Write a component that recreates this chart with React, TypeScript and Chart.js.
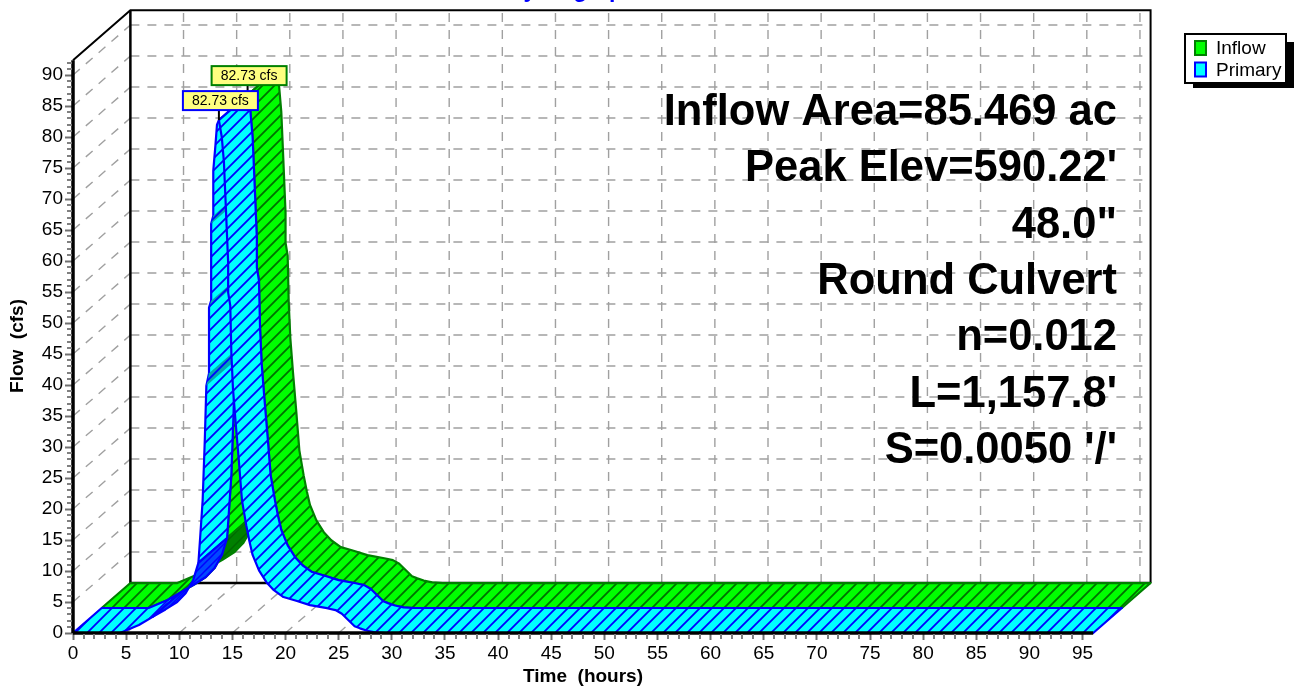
import React, { useEffect, useRef } from "react";
import { Chart, registerables } from "chart.js";

Chart.register(...registerables);

const timeHours = [0, 4.42, 6.2, 7.5, 8.7, 9.8, 10.6, 11.3, 11.8, 11.95, 12.2, 12.4, 12.55, 12.8, 12.8, 13.0, 13.0, 13.2, 13.2, 13.4, 13.55, 13.73,
  14.0, 14.2, 14.35, 14.6, 14.6, 14.8, 14.9, 15.05, 15.3, 15.6, 15.9, 16.3, 16.6, 16.9, 17.5, 18.2, 18.9, 19.8, 21, 22.3, 23.9, 24.7, 25.3, 25.9, 26.5, 27.0, 27.6, 28.4, 29.4, 96];
const inflowCfs = [0, 0, 1.3, 2.6, 3.8, 5, 6.4, 8.5, 11.3, 15, 21.4, 31, 39.9, 41.9, 52.5, 53.6, 66, 67.3, 74.6, 78.6, 82, 82.73,
  80, 76, 70, 59.7, 54.9, 52.8, 45.2, 39.5, 34, 27.9, 21.4, 17.4, 14.8, 12.6, 10.1, 8.2, 6.9, 5.8, 5.2, 4.5, 4, 3.7, 3.1, 2.1, 1.1, 0.75, 0.4, 0.1, 0, 0];
const primaryCfs = [0, 0, 1.3, 2.6, 3.8, 5, 6.4, 8.5, 11.3, 15, 21.4, 31, 39.9, 41.9, 52.5, 53.6, 66, 67.3, 74.6, 78.6, 82, 82.73,
  80, 76, 70, 59.7, 54.9, 52.8, 45.2, 39.5, 34, 27.9, 21.4, 17.4, 14.8, 12.6, 10.1, 8.2, 6.9, 5.8, 5.2, 4.5, 4, 3.7, 3.1, 2.1, 1.1, 0.75, 0.4, 0.1, 0, 0];

const xTicks = [0, 5, 10, 15, 20, 25, 30, 35, 40, 45, 50, 55, 60, 65, 70, 75, 80, 85, 90, 95];
const yTicks = [0, 5, 10, 15, 20, 25, 30, 35, 40, 45, 50, 55, 60, 65, 70, 75, 80, 85, 90];
const annotationLines = ["Inflow Area=85.469 ac", "Peak Elev=590.22'", "48.0\"", "Round Culvert", "n=0.012", "L=1,157.8'", "S=0.0050 '/'"];
const legendItems = ["Inflow", "Primary"];
const chartTitle = "Hydrograph";
const xTitle = "Time  (hours)";
const yTitle = "Flow  (cfs)";

// index ranges of the curve, by how the surface is shaded
const DARK_FROM = 3;
const DARK_TO = 8;
const TEAL_STARTS = [12, 14, 16];
const PEAK_INDEX = 21;

const X_END = 96;
const Y_END = 92.4;
const RIBBON_DX = 2.7;
const RIBBON_DY = 4.03;
const X_MAX = 101.44;
const Y_MAX = 100.65;
const FONT = "'Liberation Sans', Arial, sans-serif";

type Pt = { x: number; y: number };

function hatch(fill: string, line: string, size: number, width: number) {
  const c = document.createElement("canvas");
  c.width = size;
  c.height = size;
  const g = c.getContext("2d")!;
  g.fillStyle = fill;
  g.fillRect(0, 0, size, size);
  g.strokeStyle = line;
  g.lineWidth = width;
  g.beginPath();
  g.moveTo(-2, size + 2);
  g.lineTo(size + 2, -2);
  g.moveTo(-2, 2);
  g.lineTo(2, -2);
  g.moveTo(size - 2, size + 2);
  g.lineTo(size + 2, size - 2);
  g.stroke();
  return g.createPattern(c, "repeat")!;
}

function ribbon(values: number[], from: number, to: number, level: number): Pt[] {
  const front: Pt[] = [];
  const back: Pt[] = [];
  for (let i = from; i <= to; i++) {
    front.push({ x: timeHours[i] + level * RIBBON_DX, y: values[i] + level * RIBBON_DY });
    back.push({ x: timeHours[i] + (level + 1) * RIBBON_DX, y: values[i] + (level + 1) * RIBBON_DY });
  }
  const poly = front.concat(back.reverse());
  poly.push(poly[0]);
  return poly;
}

function face(data: Pt[], border: string, bg: any) {
  return { data, borderColor: border, borderWidth: 2.2, backgroundColor: bg, fill: "shape", pointRadius: 0, tension: 0, borderJoinStyle: "round" };
}

function stroke(data: Pt[], color: string, width: number, dash: number[] = []) {
  return { data, borderColor: color, borderWidth: width, borderDash: dash, fill: false, pointRadius: 0, tension: 0 };
}

function seriesFaces(values: number[], level: number, border: string, bright: any, dark: any, shade: any) {
  const last = values.length - 1;
  const out: any[] = [
    face(ribbon(values, 0, DARK_FROM, level), border, bright),
    face(ribbon(values, DARK_TO, PEAK_INDEX, level), border, bright),
    face(ribbon(values, DARK_FROM, DARK_TO, level), border, dark),
  ];
  for (const s of TEAL_STARTS) out.push(face(ribbon(values, s, s + 1, level), "transparent", shade));
  out.push(face(ribbon(values, PEAK_INDEX, last, level), border, bright));
  return out;
}

function App() {
  const ref = useRef<HTMLCanvasElement>(null);

  useEffect(() => {
    const WX = RIBBON_DX * 2;
    const WY = RIBBON_DY * 2;
    const gridColor = "#a0a0a0";
    const dash = [9, 8];
    const sets: any[] = [];

    for (const t of xTicks.slice(1)) {
      sets.push(stroke([{ x: t + WX, y: WY }, { x: t + WX, y: Y_END + WY }], gridColor, 1.4, dash));
      sets.push(stroke([{ x: t, y: 0 }, { x: t + WX, y: WY }], gridColor, 1.4, dash));
    }
    for (const v of yTicks.slice(1)) {
      sets.push(stroke([{ x: WX, y: v + WY }, { x: X_END + WX, y: v + WY }], gridColor, 1.4, dash));
      sets.push(stroke([{ x: 0, y: v }, { x: WX, y: v + WY }], gridColor, 1.4, dash));
    }
    sets.push(stroke([{ x: 0, y: Y_END }, { x: WX, y: Y_END + WY }, { x: X_END + WX, y: Y_END + WY }, { x: X_END + WX, y: WY }], "#000000", 2));
    sets.push(stroke([{ x: WX, y: Y_END + WY }, { x: WX, y: WY }, { x: X_END + WX, y: WY }], "#000000", 2.5));

    sets.push(...seriesFaces(inflowCfs, 1, "#008000",
      hatch("#00ff00", "#007000", 12, 1.8), hatch("#008000", "#006800", 12, 1.5), hatch("#008000", "#006800", 12, 1.5)));
    sets.push(...seriesFaces(primaryCfs, 0, "#0000ff",
      hatch("#00ffff", "#0000ff", 12, 1.8), hatch("#0048ff", "#0000ff", 8, 1.5), hatch("#00a8b4", "#0000ff", 12, 1.8)));

    sets.push(stroke([{ x: 0, y: 0 }, { x: X_END, y: 0 }], "#000000", 3.5));
    sets.push(stroke([{ x: 0, y: 0 }, { x: 0, y: Y_END }], "#000000", 3.5));

    const total = sets.length;
    sets.forEach((s, i) => { s.order = total - i; s.clip = false; });

    const artwork = {
      id: "artwork",
      afterDraw(chart: any) {
        const { ctx, scales } = chart;
        const sx = scales.x;
        const sy = scales.y;
        ctx.save();

        // minor ticks
        ctx.strokeStyle = "#808080";
        ctx.lineWidth = 2;
        ctx.beginPath();
        for (let t = 1; t < X_END; t++) {
          if (t % 5 === 0) continue;
          const p = Math.round(sx.getPixelForValue(t));
          ctx.moveTo(p, sy.bottom + 1);
          ctx.lineTo(p, sy.bottom + 6);
        }
        for (let v = 1; v < Y_END; v++) {
          if (v % 5 === 0) continue;
          const p = Math.round(sy.getPixelForValue(v));
          ctx.moveTo(sx.left - 1, p);
          ctx.lineTo(sx.left - 6, p);
        }
        ctx.stroke();

        // peak labels
        const peakLabel = (values: number[], level: number, border: string) => {
          const px = sx.getPixelForValue(timeHours[PEAK_INDEX] + level * RIBBON_DX);
          const py = sy.getPixelForValue(values[PEAK_INDEX] + level * RIBBON_DY);
          const bw = 75;
          const bh = 19;
          const bx = px - 36;
          const by = py - 10 - bh;
          ctx.strokeStyle = "#000000";
          ctx.lineWidth = 2;
          ctx.beginPath();
          ctx.moveTo(px, by + bh);
          ctx.lineTo(px, py);
          ctx.stroke();
          ctx.fillStyle = "#ffff80";
          ctx.fillRect(bx, by, bw, bh);
          ctx.strokeStyle = border;
          ctx.strokeRect(bx, by, bw, bh);
          ctx.fillStyle = "#000000";
          ctx.font = `14px ${FONT}`;
          ctx.textAlign = "center";
          ctx.textBaseline = "middle";
          ctx.fillText(`${values[PEAK_INDEX].toFixed(2)} cfs`, bx + bw / 2, by + bh / 2 + 1);
        };
        peakLabel(inflowCfs, 1, "#008000");
        peakLabel(primaryCfs, 0, "#0000ff");

        // annotation block
        ctx.fillStyle = "#000000";
        ctx.font = `bold 43.5px ${FONT}`;
        ctx.textAlign = "right";
        ctx.textBaseline = "alphabetic";
        annotationLines.forEach((l, i) => ctx.fillText(l, 1117, 125 + i * 56.3));

        // titles
        ctx.font = `bold 19px ${FONT}`;
        ctx.textAlign = "center";
        ctx.fillText(xTitle, 583, 682);
        ctx.save();
        ctx.translate(23, 346);
        ctx.rotate(-Math.PI / 2);
        ctx.fillText(yTitle, 0, 0);
        ctx.restore();
        ctx.fillStyle = "#0000ff";
        ctx.font = `bold 23px ${FONT}`;
        ctx.fillText(chartTitle, 572, -3);

        // legend
        ctx.fillStyle = "#000000";
        ctx.fillRect(1193, 42, 101, 46);
        ctx.fillStyle = "#ffffff";
        ctx.fillRect(1185, 34, 101, 49);
        ctx.strokeStyle = "#000000";
        ctx.lineWidth = 2;
        ctx.strokeRect(1185, 34, 101, 49);
        const swatches = [["#00ff00", "#008000"], ["#00ffff", "#0000ff"]];
        legendItems.forEach((name, i) => {
          const y = 41 + i * 21.5;
          ctx.fillStyle = swatches[i][0];
          ctx.fillRect(1195, y, 11, 14);
          ctx.strokeStyle = swatches[i][1];
          ctx.strokeRect(1195, y, 11, 14);
          ctx.fillStyle = "#000000";
          ctx.font = `19px ${FONT}`;
          ctx.textAlign = "left";
          ctx.textBaseline = "middle";
          ctx.fillText(name, 1216, y + 8);
        });
        ctx.restore();
      },
    };

    const keep = (limit: number) => (scale: any) => {
      scale.ticks = scale.ticks.filter((t: any) => t.value <= limit);
    };
    const flat = (s: any) => {
      s.paddingTop = 0;
      s.paddingBottom = 0;
      s.paddingLeft = 0;
      s.paddingRight = 0;
    };

    const chart = new Chart(ref.current!, {
      type: "line",
      data: { datasets: sets },
      options: {
        responsive: false,
        animation: false,
        layout: { padding: { top: 9, right: 143, bottom: 0, left: 0 } },
        plugins: { legend: { display: false }, tooltip: { enabled: false } },
        events: [],
        scales: {
          x: {
            type: "linear",
            min: 0,
            max: X_MAX,
            afterBuildTicks: keep(95),
            afterFit: (s: any) => { flat(s); s.height = 54; },
            border: { display: false },
            grid: { drawOnChartArea: false, drawTicks: true, tickLength: 7, tickColor: "#707070", tickWidth: 2 },
            ticks: { stepSize: 5, autoSkip: false, maxRotation: 0, padding: 2, color: "#000000", font: { family: FONT, size: 19 } },
          },
          y: {
            type: "linear",
            min: 0,
            max: Y_MAX,
            afterBuildTicks: keep(90),
            afterFit: (s: any) => { flat(s); s.width = 73; },
            border: { display: false },
            grid: { drawOnChartArea: false, drawTicks: true, tickLength: 8, tickColor: "#707070", tickWidth: 2 },
            ticks: { stepSize: 5, autoSkip: false, padding: 2, color: "#000000", font: { family: FONT, size: 19 } },
          },
        },
      } as any,
      plugins: [artwork],
    } as any);
    return () => chart.destroy();
  }, []);

  return (
    <div style={{ position: "absolute", left: 0, top: 0, width: 1294, height: 687, background: "#ffffff", overflow: "hidden" }}>
      <canvas ref={ref} width={1294} height={687} style={{ display: "block" }} />
    </div>
  );
}

export default App;
